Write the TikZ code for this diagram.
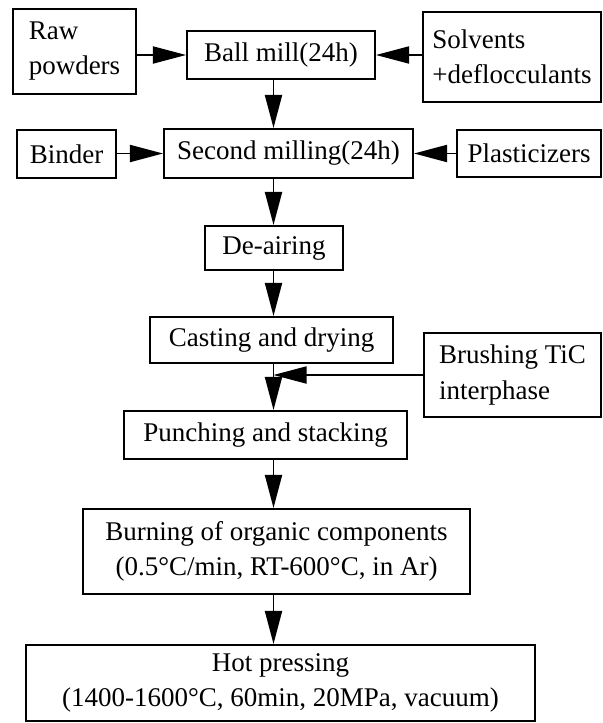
\documentclass[tikz,border=0pt]{standalone}
\usepackage{fontspec}
\setmainfont{Liberation Serif}
\usepackage{tikz}
\usetikzlibrary{arrows.meta}
\tikzset{%
  every box/.style={
    draw,
    line width=1.4pt,
    inner sep=0pt,
    font=\fontsize{19.2}{24.9}\selectfont
  },
  feed box/.style={
    every box,
    align=left
  },
  process box/.style={
    every box,
    align=center
  },
}

\begin{document}
\begin{tikzpicture}[x=0.025cm, y=-0.025cm, line width=1.05pt,
    >={Triangle[length=0.83cm, width=0.43cm]}]

        \useasboundingbox (0,0) rectangle (603,723);

        % main line
        \node [process box, minimum width=4.7cm, minimum height=1.2cm] (ball) at (281,55) {Ball mill(24h)};
        \node [process box, minimum width=6.225cm, minimum height=1.225cm] (second) at (288.5,153.5) {Second milling(24h)};
        \node [process box, minimum width=3.45cm, minimum height=1.1cm] (deair) at (274,248) {De-airing};
        \node [process box, minimum width=6.075cm, minimum height=1.15cm] (cast) at (271.5,340) {Casting and drying};
        \node [process box, minimum width=7.075cm, minimum height=1.2cm] (punch) at (265.5,435) {Punching and stacking};
        \node [process box, minimum width=9.675cm, minimum height=2.125cm] (burn) at (276.5,551.5)
        {Burning of organic components\\(0.5°C/min, RT-600°C, in Ar)};
        \node [process box, minimum width=12.725cm, minimum height=1.9cm] (hot) at (280.5,683)
        {Hot pressing\\(1400-1600°C, 60min, 20MPa, vacuum)};

        % side inputs
        \node [feed box, minimum width=3.075cm, minimum height=2.125cm] (raw) at (74.5,51.5) {Raw\\powders};
        \node [feed box, minimum width=4.45cm, minimum height=2.25cm] (solv) at (512,57) {Solvents\\+deflocculants};
        \node [feed box, minimum width=2.475cm, minimum height=1.2cm] (binder) at (66.5,154) {Binder};
        \node [feed box, minimum width=3.6cm, minimum height=1.175cm] (plast) at (529,153.5) {Plasticizers};
        \node [feed box, minimum width=4.425cm, minimum height=2.1cm] (brush) at (512.5,375) {Brushing TiC\\interphase};

        \coordinate (spine) at (273.5,0);
        \coordinate (tap) at (spine |- brush.west);

        %   arrows
        \foreach \a/\b in {ball/second, second/deair, deair/cast, cast/punch, punch/burn, burn/hot}
        \draw [->] (\a.south -| spine) -- (\b.north -| spine);

        \foreach \f/\p in {raw/ball, binder/second}
        \draw [->] (\f.east |- \p) -- (\p);

        \foreach \f/\p in {solv/ball, plast/second}
        \draw [->] (\f.west |- \p) -- (\p);

        \draw [->] (brush.west) -- (tap);

    \end{tikzpicture}
\end{document}
